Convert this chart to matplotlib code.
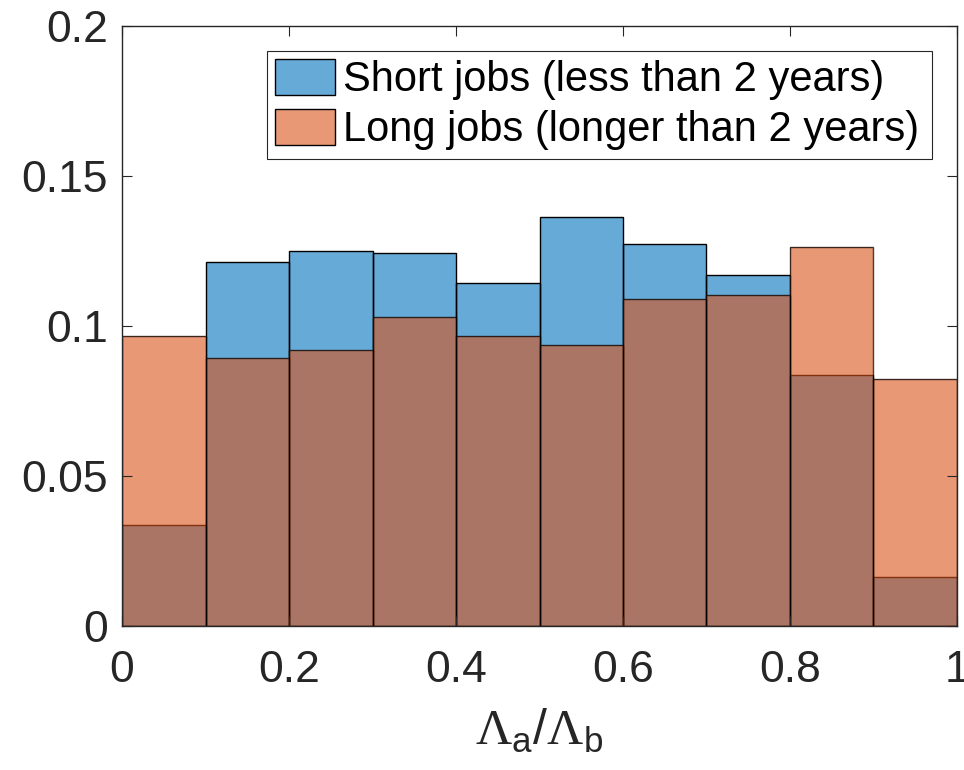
import numpy as np
import matplotlib.pyplot as plt
from matplotlib.patches import Patch

plt.rcParams['font.family'] = ['Liberation Sans', 'DejaVu Sans']
plt.rcParams['mathtext.fontset'] = 'custom'
plt.rcParams['mathtext.rm'] = 'Liberation Serif'
plt.rcParams['mathtext.sf'] = 'Liberation Sans'

# Bin edges of Lambda_a / Lambda_b and the normalised histogram heights
bin_edges = np.linspace(0.0, 1.0, 11)
short_jobs = [0.0337, 0.1215, 0.1251, 0.1245, 0.1145, 0.1362, 0.1272, 0.1170, 0.0837, 0.0164]
long_jobs = [0.0968, 0.0893, 0.0919, 0.1030, 0.0966, 0.0936, 0.1089, 0.1104, 0.1264, 0.0824]
labels = ['Short jobs (less than 2 years)', 'Long jobs (longer than 2 years)']

blue = (0.0, 0.447, 0.741)
orange = (0.85, 0.325, 0.098)
axis_grey = (0.15, 0.15, 0.15)

fig = plt.figure(figsize=(9.64, 7.70), dpi=100)
ax = fig.add_axes([0.1266, 0.187, 0.8661, 0.7792])

left = bin_edges[:-1]
widths = np.diff(bin_edges)
ax.bar(left, short_jobs, width=widths, align='edge', color=blue, alpha=0.6,
       edgecolor='none')
ax.bar(left, short_jobs, width=widths, align='edge', facecolor='none',
       edgecolor='black', linewidth=1.0)
ax.bar(left, long_jobs, width=widths, align='edge', color=orange, alpha=0.6,
       edgecolor='none')
ax.bar(left, long_jobs, width=widths, align='edge', facecolor='none',
       edgecolor=(0.0, 0.0, 0.0, 0.75), linewidth=1.0)

ax.set_xlim(0, 1)
ax.set_ylim(0, 0.2)
ax.set_xticks(np.arange(0, 1.01, 0.2))
ax.set_xticklabels(['0', '0.2', '0.4', '0.6', '0.8', '1'])
ax.set_yticks([0, 0.05, 0.1, 0.15, 0.2])
ax.set_yticklabels(['0', '0.05', '0.1', '0.15', '0.2'])
ax.tick_params(direction='in', length=7, width=0.8, colors=axis_grey,
               labelsize=32, top=True, right=True)
ax.tick_params(axis='x', pad=17)
ax.tick_params(axis='y', pad=10)
for sp in ax.spines.values():
    sp.set_color(axis_grey)
    sp.set_linewidth(1.0)
    sp.set_zorder(5)

ax.set_xlabel(r'$\Lambda_\mathsf{a}\mathsf{/}\Lambda_\mathsf{b}$', fontsize=36,
              color=axis_grey, labelpad=12)

# legend swatches: blended fill colour with a black outline
handles = [Patch(facecolor=(0.4, 0.668, 0.845), edgecolor='black', label=labels[0]),
           Patch(facecolor=(0.91, 0.595, 0.459), edgecolor='black', label=labels[1])]
leg = ax.legend(handles=handles, loc='upper left',
                bbox_to_anchor=(0.1737, 0.0, 0.7964, 0.9583), mode='expand',
                borderaxespad=0, fontsize=30, frameon=True, fancybox=False,
                handlelength=1.42, handleheight=0.92, handletextpad=0.2,
                borderpad=0.2, labelspacing=0.22)
leg.get_frame().set_edgecolor(axis_grey)
leg.get_frame().set_linewidth(0.8)
leg.get_frame().set_alpha(1)

fig.savefig('out.png', dpi=100)
